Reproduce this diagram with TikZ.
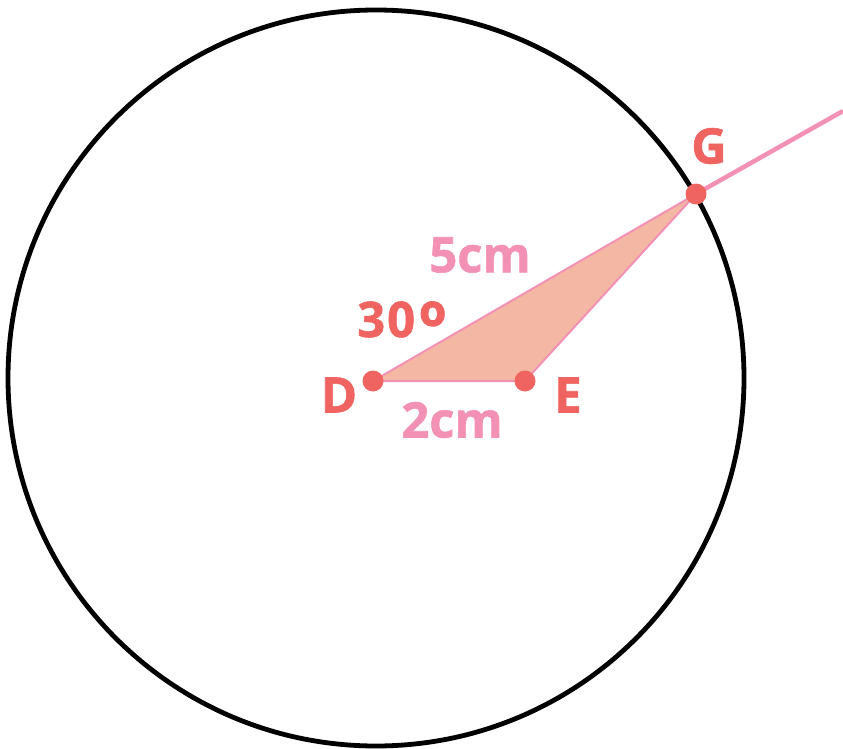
\documentclass[tikz,border=0pt]{standalone}
\usepackage{fontspec}
\setmainfont{Open Sans}[BoldFeatures={FakeBold=1.2}]
\definecolor{ptred}{HTML}{EF6461}
\definecolor{pkline}{HTML}{F291B3}
\definecolor{tfill}{HTML}{F3B7A4}
\tikzset{
  dot/.style={circle,fill=ptred,inner sep=0pt,minimum size=21pt},
  ptlabel/.style={text=ptred,font=\fontsize{49}{49}\selectfont\bfseries,inner sep=0pt},
  lenlabel/.style={text=pkline,font=\fontsize{49}{49}\selectfont\bfseries,inner sep=0pt},
}
\begin{document}
\begin{tikzpicture}[x=1pt,y=-1pt]
\useasboundingbox (0,0) rectangle (843,749);
\coordinate (C) at (376,378);
\draw[line width=4.8pt] (C) circle[radius=368];
\coordinate (Dc) at (373,381);
\coordinate (Ec) at (525,381);
\coordinate (Gc) at (696,194);
\coordinate (F) at (843,111);
\filldraw[fill=tfill,draw=pkline,line width=2pt,line join=round] (Dc) -- (Ec) -- (Gc) -- cycle;
\draw[pkline,line width=4.5pt] (Gc) -- (F);
\node[dot] (D) at (Dc) {};
\node[dot] (E) at (Ec) {};
\node[dot] (G) at (Gc) {};
\node[ptlabel] (Dl) at (339,395) {D};
\node[ptlabel] (El) at (568,395) {E};
\node[ptlabel] (Gl) at (709,146) {G};
\node[ptlabel,anchor=base west] (ang) at (357,337) {3\hspace{2pt}0\hspace{4pt}\raisebox{-15pt}{\fontsize{70}{70}\selectfont º}};
\node[lenlabel] (l5) at (480,255) {5cm};
\node[lenlabel] (l2) at (452,420) {2cm};
\end{tikzpicture}
\end{document}
